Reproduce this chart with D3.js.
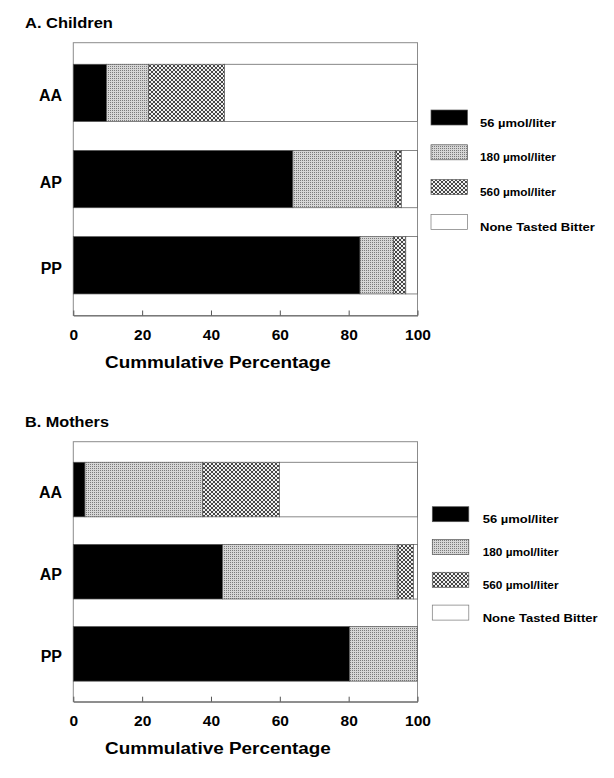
<!DOCTYPE html>
<html>
<head>
<meta charset="utf-8">
<script src="https://cdn.jsdelivr.net/npm/d3@7"></script>
<style>
  html, body { margin: 0; padding: 0; background: #fff; }
</style>
</head>
<body>
<script>
// ---------- DATA ----------
const categories = ["AA", "AP", "PP"];
const seriesNames = ["56 µmol/liter", "180 µmol/liter", "560 µmol/liter", "None Tasted Bitter"];
const tickValues = [0, 20, 40, 60, 80, 100];
const axisTitle = "Cummulative Percentage";

// Children (percent of group, per threshold)
const children56   = [9.7, 63.8, 83.3];
const children180  = [12.1, 29.9, 9.7];
const children560  = [22.1, 1.6, 3.6];
const childrenNone = [56.1, 4.7, 3.4];

// Mothers
const mothers56   = [3.4, 43.4, 80.3];
const mothers180  = [34.2, 50.9, 19.7];
const mothers560  = [22.3, 4.5, 0];
const mothersNone = [40.1, 1.2, 0];

// ---------- SETUP ----------
const FONT = "'Liberation Sans', Arial, Helvetica, sans-serif";
const svg = d3.select("body").append("svg").attr("width", 614).attr("height", 778);

const defs = svg.append("defs");
// fine stipple grid for 180
const p1 = defs.append("pattern").attr("id", "fine").attr("patternUnits", "userSpaceOnUse")
  .attr("width", 2).attr("height", 2);
p1.append("rect").attr("width", 2).attr("height", 2).attr("fill", "#d6d6d6");
p1.append("rect").attr("width", 1).attr("height", 1).attr("fill", "#7a7a7a");
// crosshatch for 560
const p2 = defs.append("pattern").attr("id", "cross").attr("patternUnits", "userSpaceOnUse")
  .attr("width", 4).attr("height", 4);
p2.append("rect").attr("width", 4).attr("height", 4).attr("fill", "#f0f0f0");
p2.append("path").attr("d", "M0,0 L4,4 M4,0 L0,4 M-1,3 L1,5 M3,-1 L5,1 M-1,1 L1,-1 M3,5 L5,3")
  .attr("stroke", "#333").attr("stroke-width", 0.9);

const fills = ["#000000", "url(#fine)", "url(#cross)", "#ffffff"];

function addText(parent, x, y, str, size, anchor, targetW) {
  const t = parent.append("text").text(str)
    .attr("font-family", FONT).attr("font-weight", "bold")
    .attr("font-size", size).attr("text-anchor", anchor).attr("fill", "#000");
  let s = 1;
  if (targetW) s = targetW / t.node().getComputedTextLength();
  t.attr("transform", `translate(${x},${y}) scale(${s},1)`);
  return t;
}

const panels = [
  { title: "A.  Children", titleY: 27.7, titleW: 88, top: 42.7, axisY: 315.5,
    legendTop: 110, legendStep: 34.8, legendX: 431, legendTextX: 480,
    series: [children56, children180, children560, childrenNone] },
  { title: "B.  Mothers", titleY: 426.7, titleW: 84, top: 441.7, axisY: 701.7,
    legendTop: 506.7, legendStep: 32.8, legendX: 432.3, legendTextX: 482.7,
    series: [mothers56, mothers180, mothers560, mothersNone] }
];

panels.forEach(p => {
  const g = svg.append("g");
  const x = d3.scaleLinear().domain([0, 100]).range([73.3, 417.5]);
  const y = d3.scaleBand().domain(categories).range([p.top, p.axisY])
    .paddingInner(0.335).paddingOuter(0.25);

  // title
  addText(g, 25, p.titleY, p.title, 15, "start", p.titleW);

  // frame
  g.append("rect").attr("x", x(0)).attr("y", p.top)
    .attr("width", x(100) - x(0)).attr("height", p.axisY - p.top)
    .attr("fill", "none").attr("stroke", "#8c8c8c").attr("stroke-width", 1);

  // stacked data
  const rows = categories.map((c, i) => {
    const o = { cat: c };
    seriesNames.forEach((s, j) => { o[s] = p.series[j][i]; });
    return o;
  });
  const stacked = d3.stack().keys(seriesNames)(rows);

  const layers = g.selectAll("g.layer").data(stacked).join("g")
    .attr("class", "layer").attr("fill", (d, i) => fills[i]);
  layers.selectAll("rect").data(d => d.filter(v => v[1] - v[0] > 0)).join("rect")
    .attr("x", d => x(d[0]))
    .attr("y", d => y(d.data.cat))
    .attr("width", d => x(d[1]) - x(d[0]))
    .attr("height", y.bandwidth())
    .attr("stroke", "#555").attr("stroke-width", 0.7);

  // axis
  const ax = d3.axisBottom(x).tickValues(tickValues).tickSizeInner(-5).tickSizeOuter(0).tickPadding(0);
  const axG = g.append("g").attr("transform", `translate(0,${p.axisY})`).call(ax);
  axG.select(".domain").attr("stroke", "#666").attr("stroke-width", 1);
  axG.selectAll(".tick line").attr("stroke", "#555").attr("stroke-width", 1);
  axG.selectAll(".tick text")
    .attr("y", 24).attr("dy", 0)
    .attr("font-family", FONT).attr("font-weight", "bold").attr("font-size", 15.5).attr("fill", "#000");

  // row labels
  categories.forEach(c => {
    addText(g, 62, y(c) + y.bandwidth() / 2 + 8.5, c, 16, "end");
  });

  // axis title
  addText(g, 105, p.axisY + 52, axisTitle, 17, "start", 226);

  // legend
  seriesNames.forEach((s, i) => {
    const ty = p.legendTop + i * p.legendStep;
    g.append("rect").attr("x", p.legendX).attr("y", ty).attr("width", 36.5).attr("height", 15)
      .attr("fill", fills[i]).attr("stroke", i === 3 ? "#777" : "#555").attr("stroke-width", 0.7);
    addText(g, p.legendTextX, ty + 16.5, s, 11.5, "start", i === 3 ? 115 : 76);
  });
});
</script>
</body>
</html>
